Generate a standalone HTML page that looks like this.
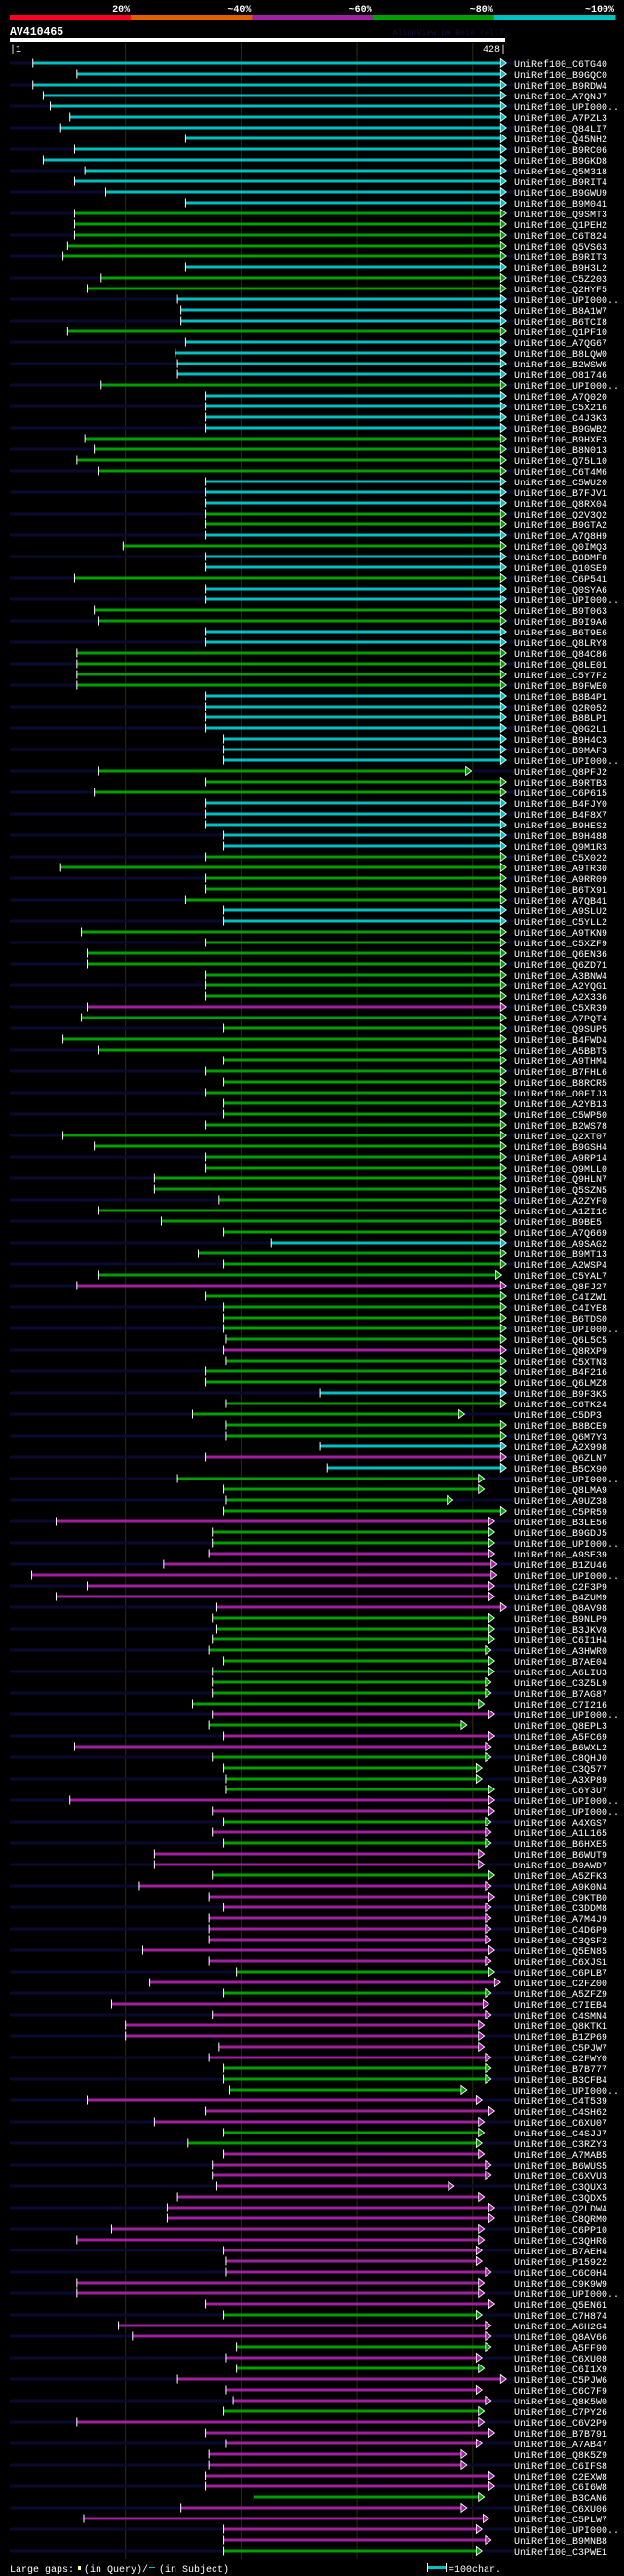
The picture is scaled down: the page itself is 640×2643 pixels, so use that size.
<!DOCTYPE html>
<html><head><meta charset="utf-8">
<style>
html,body{margin:0;padding:0;background:#000;}
svg{display:block;}
text{font-family:"Liberation Mono",monospace;}
</style></head>
<body>
<svg id="chart" width="640" height="2643" viewBox="0 0 640 2643" xmlns="http://www.w3.org/2000/svg">
<rect x="0" y="0" width="640" height="2643" fill="#000"/>
<g id="scalebar"></g>
<text x="10" y="36" fill="#fff" font-size="11.5" font-weight="bold">AV410465</text>
<text x="517" y="36" fill="#101040" font-size="8.3" text-anchor="end">AlignView.pm Beta rel.7</text>
<rect x="10" y="39" width="508" height="4" fill="#fff"/>
<text x="10" y="53" fill="#fff" font-size="10">|1</text>
<text x="519" y="53" fill="#fff" font-size="10" text-anchor="end">428|</text>
<g id="grid"></g>
<g id="rows"></g>
<g>
<text x="10" y="2639" fill="#fff" font-size="10">Large gaps:</text>
<rect x="80" y="2633" width="3" height="4" fill="#ffff80"/>
<text x="86" y="2639" fill="#fff" font-size="10">(in Query)/</text>
<rect x="153" y="2634" width="6" height="1" fill="#00c0c0"/>
<text x="163" y="2639" fill="#fff" font-size="10">(in Subject)</text>
<rect x="439" y="2633" width="18" height="3" fill="#00c0c0"/>
<rect x="438" y="2630" width="1" height="9" fill="#fff"/>
<rect x="457" y="2630" width="1" height="9" fill="#fff"/>
<text x="460" y="2639" fill="#fff" font-size="10">=100char.</text>
</g>
</svg>
<script>
const scaleLabels = ["20%","~40%","~60%","~80%","~100%"];
const scaleColors = ["#ff0020","#e06000","#a020a0","#00a000","#00c0c0"];
const gridTicks = [100,200,300,400];
const hitNames = ["C6TG40","B9GQC0","B9RDW4","A7QNJ7","UPI000..","A7PZL3","Q84LI7","Q45NH2","B9RC06","B9GKD8","Q5M318","B9RIT4","B9GWU9","B9M041","Q9SMT3","Q1PEH2","C6T824","Q5VS63","B9RIT3","B9H3L2","C5Z203","Q2HYF5","UPI000..","B8A1W7","B6TCI8","Q1PF10","A7QG67","B8LQW0","B2WSW6","O81746","UPI000..","A7Q020","C5X216","C4J3K3","B9GWB2","B9HXE3","B8N013","Q75L10","C6T4M6","C5WU20","B7FJV1","Q8RX04","Q2V3Q2","B9GTA2","A7Q8H9","Q0IMQ3","B8BMF8","Q10SE9","C6P541","Q0SYA6","UPI000..","B9T063","B9I9A6","B6T9E6","Q8LRY8","Q84C86","Q8LE01","C5Y7F2","B9FWE0","B8B4P1","Q2R052","B8BLP1","Q0G2L1","B9H4C3","B9MAF3","UPI000..","Q8PFJ2","B9RTB3","C6P615","B4FJY0","B4F8X7","B9HES2","B9H488","Q9M1R3","C5X022","A9TR30","A9RR09","B6TX91","A7QB41","A9SLU2","C5YLL2","A9TKN9","C5XZF9","Q6EN36","Q6ZD71","A3BNW4","A2YQG1","A2X336","C5XR39","A7PQT4","Q9SUP5","B4FWD4","A5BBT5","A9THM4","B7FHL6","B8RCR5","O0FIJ3","A2YB13","C5WP50","B2WS78","Q2XT07","B9GSH4","A9RP14","Q9MLL0","Q9HLN7","Q5SZN5","A2ZYF0","A1ZI1C","B9BE5","A7Q669","A9SAG2","B9MT13","A2WSP4","C5YAL7","Q8FJ27","C4IZW1","C4IYE8","B6TDS0","UPI000..","Q6L5C5","Q8RXP9","C5XTN3","B4F216","Q6LMZ8","B9F3K5","C6TK24","C5DP3","B8BCE9","Q6M7Y3","A2X998","Q6ZLN7","B5CX90","UPI000..","Q8LMA9","A9UZ38","C5PR59","B3LE56","B9GDJ5","UPI000..","A9SE39","B1ZU46","UPI000..","C2F3P9","B4ZUM9","Q8AV98","B9NLP9","B3JKV8","C6I1H4","A3HWR0","B7AE04","A6LIU3","C3Z5L9","B7AG87","C7I216","UPI000..","Q8EPL3","A5FC69","B6WXL2","C8QHJ0","C3Q577","A3XP89","C6Y3U7","UPI000..","UPI000..","A4XGS7","A1L165","B6HXE5","B6WUT9","B9AWD7","A5ZFK3","A9K0N4","C9KTB0","C3DDM8","A7M4J9","C4D6P9","C3QSF2","Q5EN85","C6XJS1","C6PLB7","C2FZ00","A5ZFZ9","C7IEB4","C4SMN4","Q8KTK1","B1ZP69","C5PJW7","C2FWY0","B7B777","B3CFB4","UPI000..","C4T539","C4SH62","C6XU07","C4SJJ7","C3RZY3","A7MAB5","B6WUS5","C6XVU3","C3QUX3","C3QDX5","Q2LDW4","C8QRM0","C6PP10","C3QHR6","B7AEH4","P15922","C6C0H4","C9K9W9","UPI000..","Q5EN61","C7H874","A6H2G4","Q8AV66","A5FF90","C6XU08","C6I1X9","C5PJW6","C6C7F9","Q8K5W0","C7PY26","C6V2P9","B7B791","A7AB47","Q8K5Z9","C6IFS8","C2EXW8","C6I6W8","B3CAN6","C6XU06","C5PLW7","UPI000..","B9MNB8","C3PWE1"];
const hitStarts = [20,58,20,29,35,52,44,152,56,29,65,56,83,152,56,56,56,50,46,152,79,67,145,148,148,50,152,143,145,145,79,169,169,169,169,65,73,58,77,169,169,169,169,169,169,98,169,169,56,169,169,73,77,169,169,58,58,58,58,169,169,169,169,185,185,185,77,169,73,169,169,169,185,185,169,44,169,169,152,185,185,62,169,67,67,169,169,169,67,62,185,46,77,185,169,185,169,185,185,169,46,73,169,169,125,125,181,77,131,185,226,163,185,77,58,169,185,185,185,187,185,187,169,169,268,187,158,187,187,268,169,274,145,185,187,185,40,175,175,172,133,19,67,40,179,175,179,175,172,185,175,175,175,158,175,172,185,56,175,185,187,187,52,175,185,175,185,125,125,175,112,172,185,172,172,172,115,172,196,121,185,88,175,100,100,181,172,185,185,190,67,169,125,185,154,185,175,175,179,145,136,136,88,58,185,187,187,58,58,169,185,94,106,196,187,196,145,187,193,185,58,169,187,172,172,169,169,211,148,64,185,185,185];
const hitEnds = [424,424,424,424,424,424,424,424,424,424,424,424,424,424,424,424,424,424,424,424,424,424,424,424,424,424,424,424,424,424,424,424,424,424,424,424,424,424,424,424,424,424,424,424,424,424,424,424,424,424,424,424,424,424,424,424,424,424,424,424,424,424,424,424,424,424,394,424,424,424,424,424,424,424,424,424,424,424,424,424,424,424,424,424,424,424,424,424,424,424,424,424,424,424,424,424,424,424,424,424,424,424,424,424,424,424,424,424,424,424,424,424,424,420,424,424,424,424,424,424,424,424,424,424,424,424,388,424,424,424,424,424,405,405,378,424,414,414,414,414,416,416,414,414,424,414,414,414,411,414,414,411,411,405,414,390,414,411,411,403,403,414,414,414,411,411,411,405,405,414,411,414,411,411,411,411,414,411,414,419,411,409,411,405,405,405,411,411,411,390,403,414,405,405,403,405,411,411,379,405,414,414,405,405,403,403,411,405,405,414,403,411,411,411,403,405,424,403,411,405,405,414,403,390,390,414,414,405,390,409,403,411,403];
const hitColors = "cccccccccccccc"+"ggggg"+"c"+"gg"+"ccc"+"g"+"cccc"+"g"+"cccc"+"gggg"+"ccc"+"gg"+"c"+"g"+"cc"+"g"+"cc"+"gg"+"cc"+"gggg"+"ccccccc"+"ggg"+"ccccc"+"ggggg"+"cc"+"ggggggg"+"p"+"ggggggggggggggggggggg"+"c"+"ggg"+"p"+"ggggg"+"p"+"ggg"+"c"+"gggg"+"c"+"p"+"c"+"gggg"+"p"+"gg"+"pppppp"+"ggggggggg"+"p"+"g"+"pp"+"gggg"+"pp"+"g"+"p"+"g"+"pp"+"g"+"pppppppp"+"g"+"p"+"g"+"pppppp"+"ggg"+"ppp"+"gg"+"ppppppppppppppp"+"g"+"pp"+"g"+"p"+"g"+"ppp"+"g"+"ppppppp"+"g"+"pppp"+"g";
</script>
<script>
const NS = "http://www.w3.org/2000/svg";
const X0 = 10, XW = 508, QLEN = 428;
function xPos(r){ return X0 + r * XW / QLEN; }
const colorMap = {c:"#00c0c0", g:"#00a000", p:"#a020a0"};
function mk(tag, attrs, parent){
  const el = document.createElementNS(NS, tag);
  for (const k in attrs) el.setAttribute(k, attrs[k]);
  parent.appendChild(el);
  return el;
}
const sb = document.getElementById("scalebar");
const segW = 124.2;
for (let i=0;i<scaleLabels.length;i++){
  const r = mk("rect",{x:10+i*segW,y:15,width:segW+0.5,height:6,fill:scaleColors[i]},sb);
  
  
  const t = mk("text",{x:10+(i+1)*segW-1,y:12,fill:"#fff","font-size":"10","font-weight":"bold","text-anchor":"end"},sb);
  t.textContent = scaleLabels[i];
  
  
}
const gg = document.getElementById("grid");
for (const tk of gridTicks){
  const l = mk("rect",{x:xPos(tk)-0.5,y:44,width:1,height:2582,fill:"#2e2e00"},gg);
  
  
}
const rg = document.getElementById("rows");
const n = hitNames.length;
for (let i=0;i<n;i++){
  const cy = 65 + i*11;
  const g = mk("g",{},rg);
  
  
  if (i%2===0){
    const s = mk("rect",{x:10,y:cy-1.5,width:517,height:3,fill:"#0a0a30"},g);
    
    
  }
  const xs = xPos(hitStarts[i]), xe = xPos(hitEnds[i]);
  const col = colorMap[hitColors[i]] || "#00a000";
  const b = mk("rect",{x:xs,y:cy-1.5,width:xe-xs,height:3,fill:col},g);
  
  
  const t1 = mk("rect",{x:xs-0.5,y:cy-4.5,width:1,height:9,fill:"#fff"},g);
  
  
  const ar = mk("polygon",{points:`${xe},${cy-4.5} ${xe+6},${cy} ${xe},${cy+4.5}`,fill:col,stroke:"#fff","stroke-width":"0.8"},g);
  
  
  const lb = mk("text",{x:527,y:cy+4,fill:"#fff","font-size":"10"},g);
  lb.textContent = "UniRef100_" + hitNames[i];
  
  
}
</script>
</body></html>
